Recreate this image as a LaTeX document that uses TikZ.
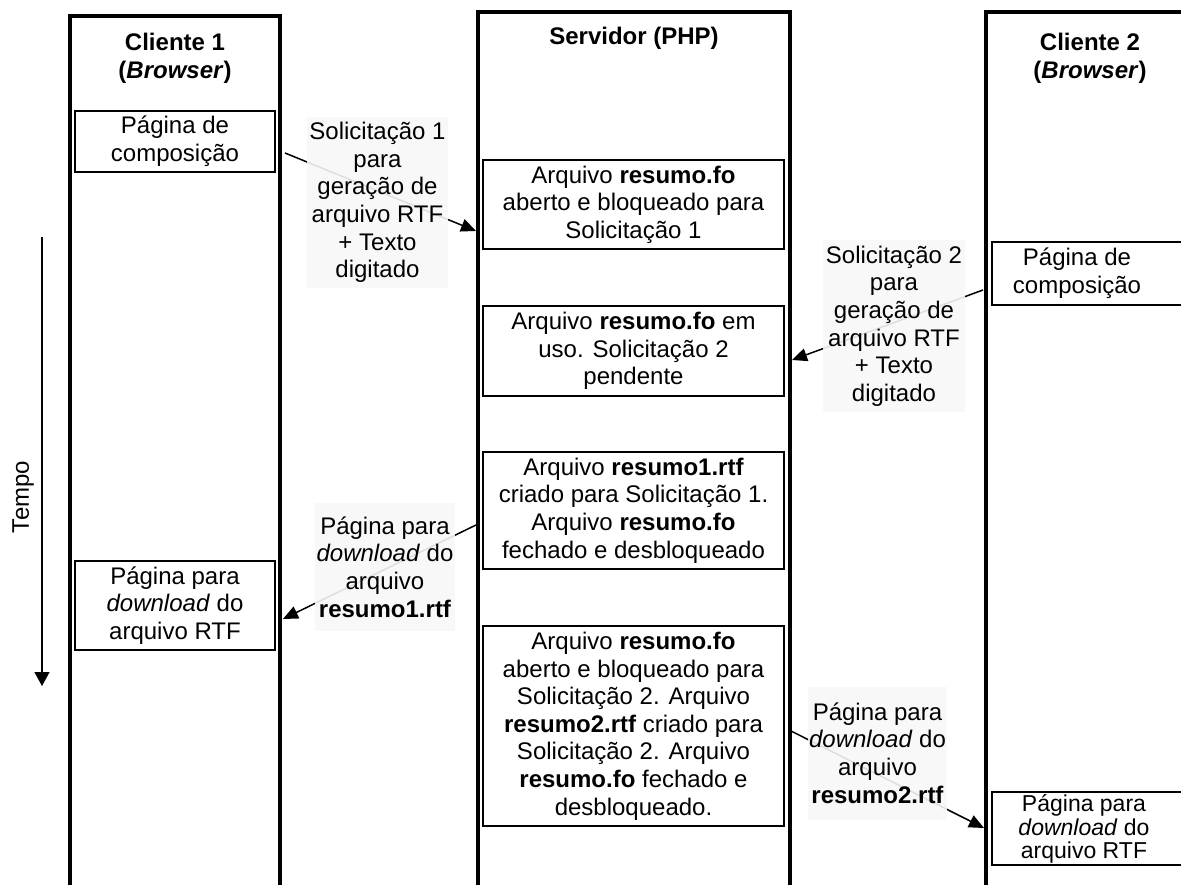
\documentclass[tikz,border=0pt]{standalone}
\usepackage{fontspec}
\setmainfont{Liberation Sans}
\usetikzlibrary{arrows.meta}
\begin{document}
\begin{tikzpicture}[x=1pt,y=-1pt,
  every node/.style={inner sep=0pt, align=center, font=\fontsize{24}{27.6}\selectfont},
  lane/.style={line width=3.5pt},
  box/.style={draw, line width=2pt},
  title/.style={font=\fontsize{24}{27.6}\selectfont\bfseries},
  lbl/.style={fill=black!3, fill opacity=0.9, text opacity=1},
  msg/.style={line width=1.5pt, -{Triangle[length=15pt,width=13pt]}}]
\useasboundingbox (0,0) rectangle (1181,885);
\clip (0,0) rectangle (1181,885);

% swimlanes
\draw[lane] (70,890) -- (70,16) -- (280,16) -- (280,890);
\draw[lane] (478,890) -- (478,12) -- (790,12) -- (790,890);
\draw[lane] (986,890) -- (986,12) -- (1210,12) -- (1210,890);

\node[title] (t1) at (175,58) {Cliente 1\\(\textit{Browser})};
\node[title] (t2) at (634,38) {Servidor (PHP)};
\node[title] (t3) at (1090,58) {Cliente 2\\(\textit{Browser})};

% time axis
\coordinate (ta) at (42,237);
\coordinate (tb) at (42,686);
\draw[line width=1.5pt, -{Triangle[length=14pt,width=15pt]}] (ta) -- (tb);
\node[rotate=90] (tempo) at (23,497) {Tempo};

% client 1 boxes
\node[box, minimum width=200pt, minimum height=61pt] (c1a) at (175,141.5) {Página de\\composição};
\node[box, minimum width=200pt, minimum height=89pt] (c1b) at (175,605.5) {Página para\\\textit{download} do\\arquivo RTF};

% server boxes
\node[box, minimum width=301pt, minimum height=89pt] (s1) at (633.5,204.5)
  {Arquivo \textbf{resumo.fo}\\aberto e bloqueado para\\Solicitação 1};
\node[box, minimum width=301pt, minimum height=90pt] (s2) at (633.5,351)
  {Arquivo \textbf{resumo.fo} em\\uso. Solicitação 2\\pendente};
\node[box, minimum width=301pt, minimum height=117pt] (s3) at (633.5,510.5)
  {Arquivo \textbf{resumo1.rtf}\\criado para Solicitação 1.\\Arquivo \textbf{resumo.fo}\\fechado e desbloqueado};
\node[box, minimum width=301pt, minimum height=200pt] (s4) at (633.5,726)
  {Arquivo \textbf{resumo.fo}\\aberto e bloqueado para\\Solicitação 2. Arquivo\\\textbf{resumo2.rtf} criado para\\Solicitação 2. Arquivo\\\textbf{resumo.fo} fechado e\\desbloqueado.};

% client 2 boxes
\node[box, minimum width=210pt, minimum height=63pt] (c2a) at (1097,273.5) {};
\node (c2at) at (1077,273.5) {Página de\\composição};
\node[box, minimum width=210pt, minimum height=73pt] (c2b) at (1097,828.5) {};
\node[font=\fontsize{23}{23.5}\selectfont] (c2bt) at (1084,829) {Página para\\\textit{download} do\\arquivo RTF};

% message end points
\coordinate (a1s) at (285,153);
\coordinate (a1e) at (476,231);
\coordinate (a2s) at (983,290);
\coordinate (a2e) at (792,360);
\coordinate (a3s) at (476,525);
\coordinate (a3e) at (283,619);
\coordinate (a4s) at (789,730);
\coordinate (a4e) at (984,828);

\draw[msg] (a1s) -- (a1e);
\draw[msg] (a2s) -- (a2e);
\draw[msg] (a3s) -- (a3e);
\draw[msg] (a4s) -- (a4e);

% message labels
\node[lbl, minimum width=141pt, minimum height=171pt] (m1) at (377.5,202.5)
  {Solicitação 1\\para\\geração de\\arquivo RTF\\+ Texto\\digitado};
\node[lbl, minimum width=142pt, minimum height=172pt] (m2) at (894,326)
  {Solicitação 2\\para\\geração de\\arquivo RTF\\+ Texto\\digitado};
\node[lbl, minimum width=140pt, minimum height=128pt] (m3) at (385,567)
  {Página para\\\textit{download} do\\arquivo\\\textbf{resumo1.rtf}};
\node[lbl, minimum width=139pt, minimum height=133pt] (m4) at (877.5,753)
  {Página para\\\textit{download} do\\arquivo\\\textbf{resumo2.rtf}};
\end{tikzpicture}
\end{document}
